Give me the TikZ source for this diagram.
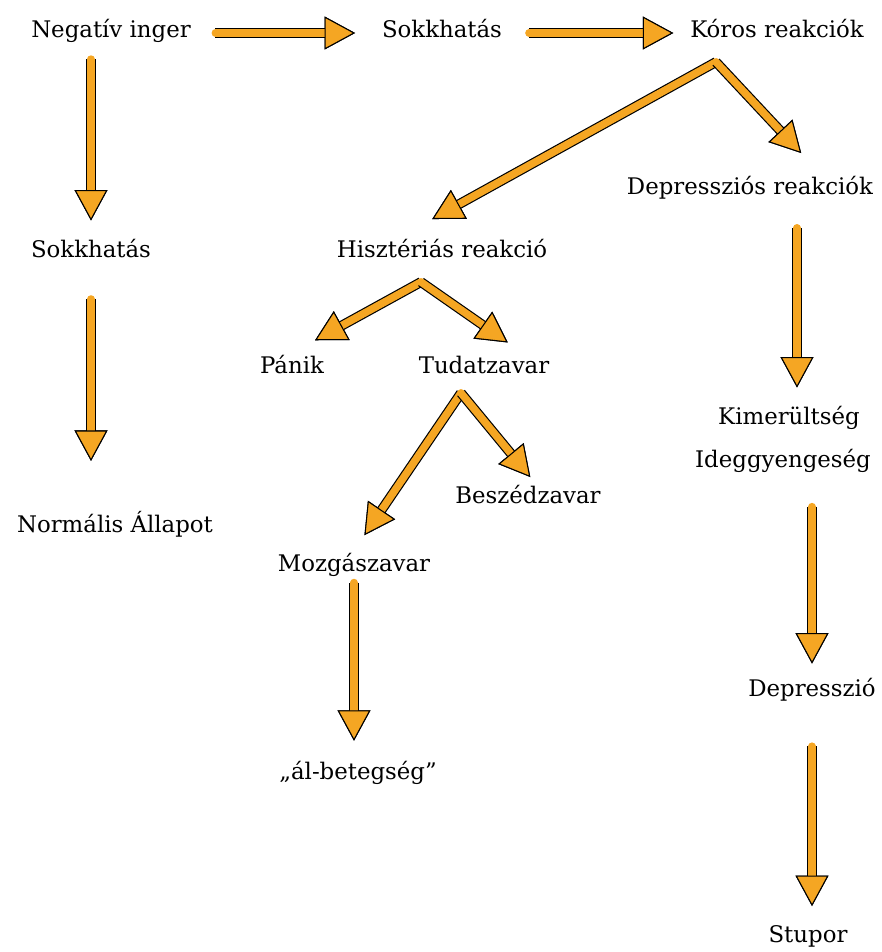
\documentclass[tikz,border=0pt]{standalone}
\usepackage{fontspec}
\setmainfont{DejaVu Serif}
\usepackage{xcolor}
\definecolor{f5a623}{HTML}{F5A623}
\usepackage{tikz}
\usetikzlibrary{arrows.meta}

\tikzset{
    lbl/.style={inner sep=0pt, outer sep=0pt, text height=9.5pt, text depth=1pt,
        font=\fontsize{19.5}{23}\selectfont},
    blockarrow/.style={draw=f5a623, line width=6.4pt, line cap=round,
        -{Triangle[length=26pt, width=28pt, color=black, fill=f5a623, line width=0.9pt]},
        preaction={draw=black, line width=8.4pt}}
}

\begin{document}
\begin{tikzpicture}[x=0.3mm, y=-0.3mm]
                        \useasboundingbox (0, 0) rectangle (882, 952);

                        \node (neg) at (111, 33) [lbl] {Negatív inger};
                        \node (sok1) at (442, 33) [lbl] {Sokkhatás};
                        \node (kor) at (777, 33) [lbl] {Kóros reakciók};
                        \node (sok2) at (91, 253) [lbl] {Sokkhatás};
                        \node (norm) at (115, 528) [lbl] {Normális Állapot};
                        \node (dep) at (750, 190) [lbl] {Depressziós reakciók};
                        \node (hiszt) at (442, 253) [lbl] {Hisztériás reakció};
                        \node (panik) at (292, 369) [lbl] {Pánik};
                        \node (tudat) at (484, 369) [lbl] {Tudatzavar};
                        \node (besz) at (528, 499) [lbl] {Beszédzavar};
                        \node (mozg) at (354, 567) [lbl] {Mozgászavar};
                        \node (alb) at (358, 775) [lbl] {„ál-betegség”};
                        \node (kim) at (789, 420) [lbl] {Kimerültség};
                        \node (ideg) at (783, 463) [lbl] {Ideggyengeség};
                        \node (depr) at (812, 692) [lbl] {Depresszió};
                        \node (stup) at (808, 938) [lbl] {Stupor};

                        % fork points
                        \coordinate (kfork) at (716, 62);
                        \coordinate (hfork) at (421, 282);
                        \coordinate (tfork) at (461, 393);

                        \draw[blockarrow, shorten <=21pt, shorten >=23pt] (neg.east) -- (sok1.west);
                        \draw[blockarrow, shorten <=23pt, shorten >=14.5pt] (sok1.east) -- (kor.west);
                        \draw[blockarrow, shorten <=17pt, shorten >=22.5pt] (sok2 |- neg.south) -- (sok2.north);
                        \draw[blockarrow, shorten <=34pt, shorten >=52pt] (sok2.south) -- (sok2.south |- norm.north);

                        \draw[blockarrow, shorten >=49pt] (kfork) -- ([xshift=-18mm]hiszt.north);
                        \draw[blockarrow, shorten >=36pt] (kfork) -- ([xshift=24mm]dep.north);
                        \draw[blockarrow, shorten >=40pt] (hfork) -- ([xshift=-5.4mm]panik.north);
                        \draw[blockarrow, shorten >=30.4pt] (hfork) -- ([xshift=15.9mm]tudat.north);
                        \draw[blockarrow, shorten >=26.5pt] (tfork) -- ([xshift=-2.1mm]mozg.north);
                        \draw[blockarrow, shorten >=17.5pt] (tfork) -- ([xshift=4.6mm]besz.north);

                        \draw[blockarrow, shorten <=8pt, shorten >=24pt] (mozg.south) -- (mozg.south |- alb.north);
                        \draw[blockarrow, shorten <=27pt, shorten >=22.5pt] ([xshift=2.4mm]kim.south |- dep.south) -- ([xshift=2.4mm]kim.north);
                        \draw[blockarrow, shorten <=32pt, shorten >=19pt] (depr |- ideg.south) -- (depr.north);
                        \draw[blockarrow, shorten <=41pt, shorten >=22pt] (depr.south) -- (depr.south |- stup.north);
                    \end{tikzpicture}
\end{document}
